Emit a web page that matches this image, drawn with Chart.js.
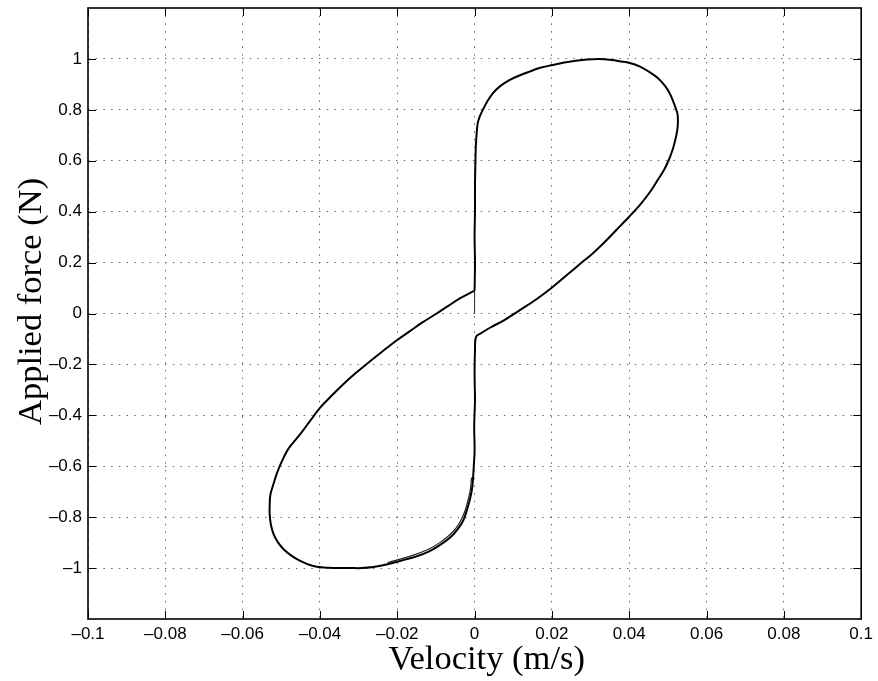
<!DOCTYPE html>
<html>
<head>
<meta charset="utf-8">
<script src="https://cdn.jsdelivr.net/npm/chart.js@4.4.1/dist/chart.umd.min.js"></script>
<style>
  html, body { margin: 0; padding: 0; background: #fff; }
  #loop-chart { display: block; }
</style>
</head>
<body>
<canvas id="loop-chart" width="878" height="681"></canvas>
<script>
// hysteresis loop: applied force against velocity

var velocity = [
  // upward stick at zero velocity
  0.0000, 0.0001, 0.0000, 0.0001, 0.0001, 0.0002, 0.0003, 0.0005, 0.0008, 0.0014,
  // upper lobe
  0.0021, 0.0032, 0.0047, 0.0067, 0.0090, 0.0116, 0.0142, 0.0170, 0.0202, 0.0232,
  0.0262, 0.0291, 0.0322, 0.0355, 0.0379, 0.0399, 0.0428, 0.0451, 0.0474, 0.0494,
  0.0507, 0.0519, 0.0525, 0.0526, 0.0524, 0.0519, 0.0512, 0.0502, 0.0491, 0.0476,
  // falling branch
  0.0457, 0.0430, 0.0399, 0.0366, 0.0332, 0.0304, 0.0274, 0.0238, 0.0202, 0.0161,
  0.0118, 0.0079, 0.0041, 0.0017, 0.0004,
  // downward stick at zero velocity
  0.0001, 0.0000, 0.0001, -0.0001, 0.0000, -0.0002, -0.0004,
  // lower lobe
  -0.0007, -0.0013, -0.0021, -0.0030, -0.0045, -0.0064, -0.0089, -0.0116, -0.0152, -0.0193,
  -0.0228, -0.0262, -0.0292, -0.0322, -0.0357, -0.0391, -0.0422, -0.0451, -0.0474, -0.0494,
  -0.0509, -0.0520, -0.0527, -0.0530, -0.0530, -0.0528, -0.0520, -0.0511, -0.0498, -0.0481,
  // rising branch
  -0.0451, -0.0425, -0.0399, -0.0370, -0.0339, -0.0309, -0.0279, -0.0241, -0.0202, -0.0169,
  -0.0135, -0.0100, -0.0067, -0.0036, 0.0000
];
var force = [
  0.090, 0.201, 0.299, 0.402, 0.500, 0.583, 0.650, 0.701, 0.747, 0.776,
  0.799, 0.831, 0.865, 0.894, 0.917, 0.935, 0.950, 0.965, 0.976, 0.986,
  0.993, 0.998, 1.000, 0.996, 0.990, 0.985, 0.970, 0.950, 0.925, 0.891,
  0.858, 0.812, 0.783, 0.753, 0.717, 0.681, 0.642, 0.602, 0.567, 0.530,
  0.484, 0.431, 0.379, 0.327, 0.274, 0.234, 0.196, 0.150, 0.104, 0.057,
  0.014, -0.024, -0.055, -0.077, -0.091,
  -0.146, -0.244, -0.343, -0.441, -0.539, -0.598, -0.646,
  -0.693, -0.736, -0.778, -0.815, -0.850, -0.881, -0.909, -0.933, -0.955, -0.972,
  -0.986, -0.996, -1.000, -1.000, -1.000, -0.998, -0.990, -0.972, -0.951, -0.926,
  -0.898, -0.867, -0.829, -0.789, -0.749, -0.710, -0.669, -0.626, -0.579, -0.530,
  -0.474, -0.421, -0.369, -0.323, -0.277, -0.236, -0.198, -0.152, -0.106, -0.071,
  -0.035, -0.002, 0.031, 0.061, 0.090
];

// second pass through the lower lobe, just inside the first
var velocity2 = [-0.0008, -0.0011, -0.0017, -0.0024, -0.0034, -0.0048, -0.0067, -0.0090, -0.0118, -0.0154, -0.0193, -0.0225];
var force2 = [-0.644, -0.692, -0.733, -0.772, -0.808, -0.843, -0.873, -0.900, -0.925, -0.947, -0.965, -0.978];

// short drift at zero velocity
var velocity3 = [0.0000, 0.0000];
var force3 = [0.090, 0.000];

var xTicks = [-0.1, -0.08, -0.06, -0.04, -0.02, 0, 0.02, 0.04, 0.06, 0.08, 0.1];
var yTicks = [-1, -0.8, -0.6, -0.4, -0.2, 0, 0.2, 0.4, 0.6, 0.8, 1];

function toPoints(xs, ys) {
  return xs.map(function (v, i) { return { x: v, y: ys[i] }; });
}

function tickText(v) {
  var s = String(Math.round(v * 1000) / 1000);
  return s.replace('-', '\u2013');
}

// box round the axes and inward tick marks on all four sides
var axesFrame = {
  id: 'axesFrame',
  afterDraw: function (chart) {
    var ctx = chart.ctx;
    var a = chart.chartArea;
    var sx = chart.scales.x, sy = chart.scales.y;
    var len = 8;
    ctx.save();
    ctx.strokeStyle = '#000';
    ctx.lineWidth = 1;
    ctx.beginPath();
    xTicks.forEach(function (v) {
      var px = Math.round(sx.getPixelForValue(v)) + 0.5;
      ctx.moveTo(px, a.bottom); ctx.lineTo(px, a.bottom - len);
      ctx.moveTo(px, a.top); ctx.lineTo(px, a.top + len);
    });
    yTicks.forEach(function (v) {
      var py = Math.round(sy.getPixelForValue(v)) + 0.5;
      ctx.moveTo(a.left, py); ctx.lineTo(a.left + len, py);
      ctx.moveTo(a.right, py); ctx.lineTo(a.right - len, py);
    });
    ctx.stroke();
    ctx.lineWidth = 1.6;
    ctx.strokeRect(a.left, a.top, a.right - a.left, a.bottom - a.top);
    ctx.restore();
  }
};

var ctx = document.getElementById('loop-chart').getContext('2d');

var lineStyle = { showLine: true, pointRadius: 0, fill: false };

var chart = new Chart(ctx, {
  type: 'scatter',
  data: {
    datasets: [
      Object.assign({
        label: 'Force',
        data: toPoints(velocity, force),
        borderColor: '#000',
        borderWidth: 2,
        tension: 0.35
      }, lineStyle),
      Object.assign({
        label: 'Force, second pass',
        data: toPoints(velocity2, force2),
        borderColor: '#222',
        borderWidth: 1.2,
        tension: 0.35
      }, lineStyle),
      Object.assign({
        label: 'Drift',
        data: toPoints(velocity3, force3),
        borderColor: 'rgba(0,0,0,0.4)',
        borderWidth: 1
      }, lineStyle)
    ]
  },
  options: {
    responsive: false,
    animation: false,
    layout: {
      padding: { top: 8, right: 16, left: 0, bottom: 0 }
    },
    plugins: {
      legend: { display: false },
      tooltip: { enabled: false }
    },
    scales: {
      x: {
        type: 'linear',
        min: -0.1,
        max: 0.1,
        afterBuildTicks: function (scale) {
          scale.ticks = xTicks.map(function (v) { return { value: v }; });
        },
        afterFit: function (scale) { scale.height = 62; },
        grid: {
          color: '#6a6a6a',
          lineWidth: 1,
          drawTicks: false
        },
        border: { display: false, dash: [1.5, 6.2] },
        ticks: {
          autoSkip: false,
          maxRotation: 0,
          padding: 5,
          color: '#000',
          font: { family: 'Liberation Sans', size: 17 },
          callback: function (v) { return tickText(v); }
        },
        title: {
          display: true,
          text: '  \u2009Velocity (m/s)',
          color: '#000',
          padding: { top: 0, bottom: 0 },
          font: { family: 'Liberation Serif', size: 34.5 }
        }
      },
      y: {
        type: 'linear',
        min: -1.2,
        max: 1.2,
        afterBuildTicks: function (scale) {
          scale.ticks = yTicks.map(function (v) { return { value: v }; });
        },
        afterFit: function (scale) {
          scale.width = 88;
          scale.paddingTop = 0;
          scale.paddingBottom = 0;
        },
        grid: {
          color: '#6a6a6a',
          lineWidth: 1,
          drawTicks: false
        },
        border: { display: false, dash: [1.5, 6.2] },
        ticks: {
          autoSkip: false,
          padding: 6,
          color: '#000',
          font: { family: 'Liberation Sans', size: 17 },
          callback: function (v) { return tickText(v); }
        },
        title: {
          display: true,
          text: '  \u2009Applied force (N)',
          color: '#000',
          padding: { top: 11, bottom: 0 },
          font: { family: 'Liberation Serif', size: 34.5 }
        }
      }
    }
  },
  plugins: [axesFrame]
});
</script>
</body>
</html>
